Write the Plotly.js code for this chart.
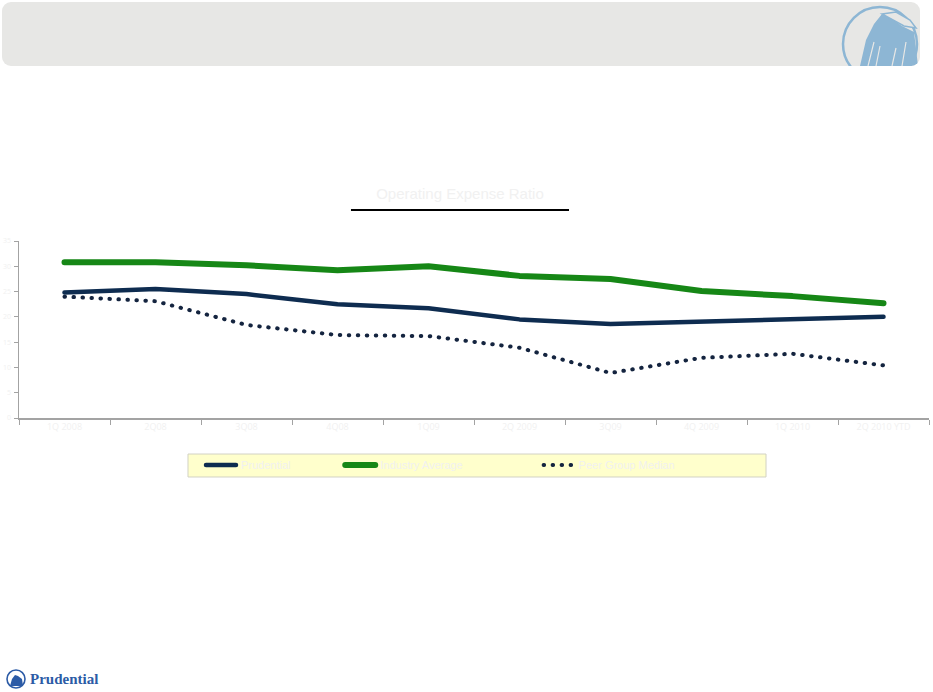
<!DOCTYPE html>
<html>
<head>
<meta charset="utf-8">
<script src="https://cdn.plot.ly/plotly-3.0.1.min.js"></script>
<style>
  html, body { margin: 0; padding: 0; background: #fff; }
  body { width: 933px; height: 692px; position: relative; overflow: hidden; font-family: Arial, "Liberation Sans", sans-serif; }
  #header {
    position: absolute; left: 2px; top: 2px; width: 918px; height: 64px;
    background: #e7e7e5; border-radius: 9px; overflow: hidden;
  }
  #header svg { position: absolute; right: 0; top: 0; }
  #chart { position: absolute; left: 0; top: 0; width: 933px; height: 692px; }
  #footer { position: absolute; left: 6px; top: 668px; height: 22px; display: flex; align-items: center; }
  #footer span { font-family: "Liberation Serif", "DejaVu Serif", serif; font-weight: bold; font-size: 15px; color: #2c5ba6; margin-left: 4px; }
  /* round dots and joins, like the source slide */
  .scatterlayer .js-line, .legendlines .js-line { stroke-linecap: round; stroke-linejoin: round; }
</style>
</head>
<body>
<div id="header">
  <svg width="90" height="64" viewBox="0 0 90 64">
    <circle cx="50" cy="42" r="37" fill="none" stroke="#8db6d4" stroke-width="2.5"/>
    <path d="M30 64 L36 38 L44 22 L52 12 L58 14 L72 24 L84 30 L88 64 Z" fill="#8db6d4"/>
    <path d="M52 12 L66 10 L80 18 L86 26 L74 24 Z" fill="#e7e7e5" stroke="#8db6d4" stroke-width="1.5"/>
    <path d="M38 64 L44 40 M46 64 L50 44 M62 64 L66 46 M72 64 L76 40" stroke="#e7e7e5" stroke-width="1.2" fill="none"/>
  </svg>
</div>
<div id="chart"></div>
<div id="footer">
  <svg width="20" height="20" viewBox="0 0 20 20">
    <circle cx="10" cy="10" r="9" fill="none" stroke="#2c5ba6" stroke-width="1.6"/>
    <path d="M4 17 L6 10 L9 6 L12 7 L16 10 L17 17 Z" fill="#2c5ba6"/>
  </svg>
  <span>Prudential</span>
</div>
<script>
const categories = ["1Q 2008", "2Q08", "3Q08", "4Q08", "1Q09", "2Q 2009", "3Q09", "4Q 2009", "1Q 2010", "2Q 2010 YTD"];
const seriesNames = ["Prudential", "Industry Average", "Peer Group Median"];
const companyValues = [24.8, 25.5, 24.5, 22.5, 21.7, 19.5, 18.6, 19.0, 19.4, 20.0];
const industryValues = [30.8, 30.8, 30.2, 29.2, 30.0, 28.1, 27.5, 25.1, 24.1, 22.7];
const peerValues = [24.0, 23.1, 18.4, 16.4, 16.2, 13.9, 8.9, 11.9, 12.7, 10.4];
const yTicks = [0, 5, 10, 15, 20, 25, 30, 35];
const chartTitle = "Operating Expense Ratio";

const faint = '#f1f1f1';

const traces = [
    {
        x: categories, y: companyValues, type: 'scatter', mode: 'lines',
        name: seriesNames[0], legend: 'legend',
        line: { color: '#0e2c50', width: 4.5 }
    },
    {
        x: categories, y: industryValues, type: 'scatter', mode: 'lines',
        name: seriesNames[1], legend: 'legend2',
        line: { color: '#168716', width: 6 }
    },
    {
        x: categories, y: peerValues, type: 'scatter', mode: 'lines',
        name: seriesNames[2], legend: 'legend3',
        line: { color: '#14243f', width: 4, dash: '0.5px,8.5px' }
    }
];

// plot area spans x 19..929, y 241..418 in page pixels
const legendBase = { orientation: 'h', yanchor: 'middle', y: -0.265, xanchor: 'left',
    bgcolor: 'rgba(0,0,0,0)', font: { size: 11, color: faint, family: 'Arial, Liberation Sans' } };

const layout = {
    width: 933,
    height: 692,
    margin: { l: 19, r: 4, t: 241, b: 274 },
    paper_bgcolor: 'rgba(0,0,0,0)',
    plot_bgcolor: 'rgba(0,0,0,0)',
    showlegend: true,
    title: {
        text: chartTitle,
        font: { size: 15, color: faint, family: 'Arial, Liberation Sans' },
        x: 0.493, xanchor: 'center', y: 0.72, yanchor: 'middle'
    },
    xaxis: {
        type: 'category',
        range: [-0.5, 9.5],
        showline: true, linecolor: '#a3a3a3', linewidth: 1.5,
        ticks: 'outside', tickson: 'boundaries', ticklen: 5, tickcolor: '#a3a3a3',
        showgrid: false, zeroline: false,
        tickfont: { size: 9, color: faint },
        fixedrange: true
    },
    yaxis: {
        range: [0, 35],
        tickvals: yTicks,
        ticktext: yTicks.map(String),
        showline: true, linecolor: '#a3a3a3', linewidth: 1.5,
        ticks: 'outside', ticklen: 4, tickcolor: '#a3a3a3',
        ticklabelstandoff: 1,
        showgrid: false, zeroline: false,
        tickfont: { size: 7, color: faint },
        fixedrange: true
    },
    legend: Object.assign({}, legendBase, { x: 0.200 }),
    legend2: Object.assign({}, legendBase, { x: 0.353 }),
    legend3: Object.assign({}, legendBase, { x: 0.571 }),
    shapes: [
        // legend box
        { type: 'rect', xref: 'paper', yref: 'paper', layer: 'below',
          x0: 0.1857, x1: 0.8209, y0: -0.2034, y1: -0.3333,
          fillcolor: '#ffffcc', line: { color: '#d2d2c4', width: 1 } },
        // title underline
        { type: 'line', xref: 'paper', yref: 'paper',
          x0: 0.3648, x1: 0.6044, y0: 1.175, y1: 1.175,
          line: { color: '#000', width: 2 } }
    ]
};

Plotly.newPlot('chart', traces, layout, { displayModeBar: false, staticPlot: true });
</script>
</body>
</html>
